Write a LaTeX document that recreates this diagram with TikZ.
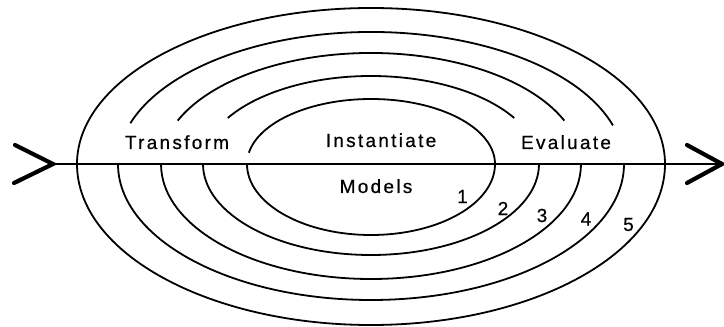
\documentclass[tikz,border=0pt]{standalone}
\usepackage{fontspec}
\setmainfont{Liberation Sans}[LetterSpace=12, FakeBold=0.6]
\usetikzlibrary{calc}
\begin{document}
\begin{tikzpicture}[x=1pt,y=1pt]
\tikzset{
  ring/.style={line width=1.8pt},
  axisline/.style={line width=2.6pt},
  chevron/.style={line width=4.2pt, line cap=round, line join=miter},
  lbl/.style={font=\fontsize{19}{21}\selectfont, inner sep=0pt, anchor=base},
  numlbl/.style={font=\fontsize{19}{21}\selectfont, inner sep=0pt}
}
\useasboundingbox (0,0) rectangle (724,327);
\coordinate (C) at (371,163);
\foreach \a/\bt/\bb/\s/\e in {124/65/71/0/170, 168/88/91/31.5/148.5, 210/111/115/23/157, 253/132/136/17/162, 294/156/161/0/180} {
  \draw[ring] ($(C)+(\s:\a pt and \bt pt)$) arc[start angle=\s, end angle=\e, x radius=\a pt, y radius=\bt pt];
  \draw[ring] ($(C)+(\a pt,0)$) arc[start angle=0, end angle=-180, x radius=\a pt, y radius=\bb pt];
}
% axis and chevrons
\coordinate (ltip) at (53,163);
\coordinate (la1) at (15,182);
\coordinate (la2) at (14,144);
\coordinate (rtip) at (722,163);
\coordinate (ra1) at (687,182);
\coordinate (ra2) at (687,144);
\draw[axisline] (ltip) -- (rtip);
\draw[chevron] (la1) -- (ltip) -- (la2);
\draw[chevron] (ra1) -- (rtip) -- (ra2);
% labels
\node[lbl] (transform) at (177,178) {Transform};
\node[lbl] (inst) at (381,180) {Instantiate};
\node[lbl] (eval) at (566,178) {Evaluate};
\node[lbl] (models) at (376,134) {Models};
\node[numlbl] (n1) at (462.5,130.5) {1};
\node[numlbl] (n2) at (503,118.5) {2};
\node[numlbl] (n3) at (542,111.5) {3};
\node[numlbl] (n4) at (586,108) {4};
\node[numlbl] (n5) at (628.5,102.5) {5};
\end{tikzpicture}
\end{document}
